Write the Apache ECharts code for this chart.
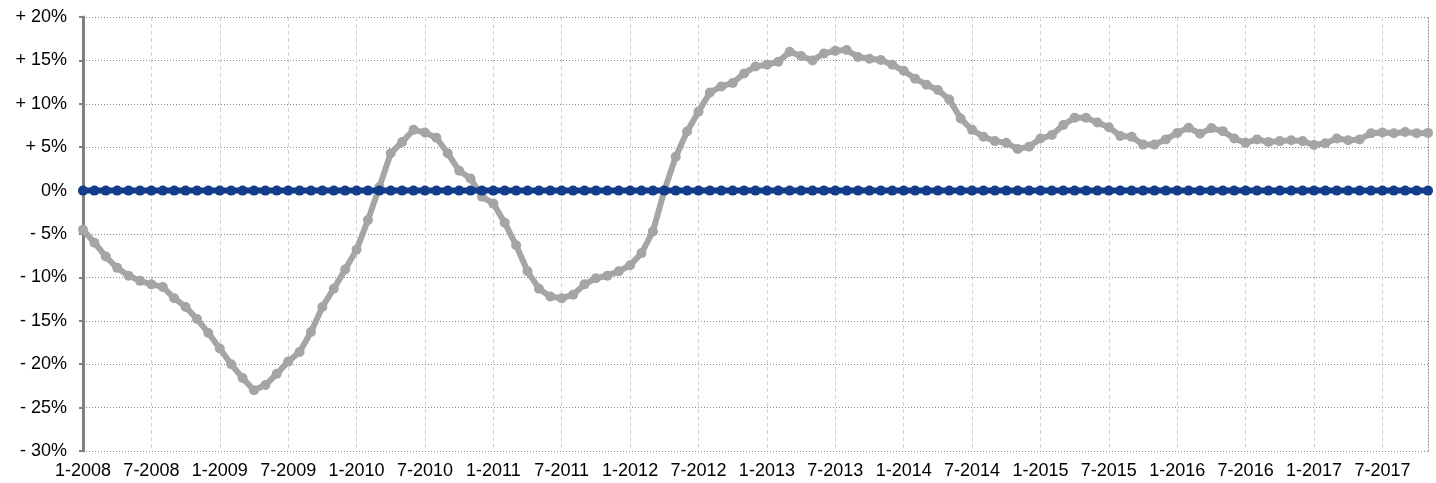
<!DOCTYPE html>
<html>
<head>
<meta charset="utf-8">
<script src="https://cdn.jsdelivr.net/npm/echarts@6/dist/echarts.min.js"></script>
<style>
  html, body { margin: 0; padding: 0; background: #ffffff; }
  #chart { width: 1436px; height: 483px; }
</style>
</head>
<body>
<div id="chart"></div>
<script>
// Monthly points from 1-2008 through 11-2017
const startYear = 2008;
const monthCount = 119;
const categories = [];
for (let i = 0; i < monthCount; i++) {
  categories.push(((i % 12) + 1) + '-' + (startYear + Math.floor(i / 12)));
}

// Year-on-year change, %
const changeValues = [
  -4.5, -6.0, -7.6, -8.9, -9.8, -10.4, -10.8, -11.1, -12.4, -13.4, -14.8, -16.4,
  -18.2, -20.0, -21.6, -23.0, -22.4, -21.1, -19.7, -18.6, -16.3, -13.4, -11.3, -9.1,
  -6.8, -3.4, 0.4, 4.3, 5.6, 7.0, 6.7, 6.1, 4.3, 2.3, 1.4, -0.7,
  -1.5, -3.7, -6.3, -9.3, -11.3, -12.2, -12.4, -12.0, -10.8, -10.1, -9.8, -9.3,
  -8.6, -7.2, -4.7, 0.0, 3.9, 6.8, 9.1, 11.3, 12.0, 12.4, 13.5, 14.3,
  14.5, 14.85, 16.0, 15.5, 15.0, 15.8, 16.1, 16.2, 15.4, 15.2, 15.05, 14.5,
  13.8, 12.9, 12.2, 11.6, 10.5, 8.3, 7.0, 6.2, 5.7, 5.5, 4.8, 5.05,
  6.0, 6.4, 7.55, 8.4, 8.4, 7.85, 7.3, 6.3, 6.2, 5.3, 5.3, 5.9,
  6.65, 7.25, 6.55, 7.2, 6.85, 6.0, 5.5, 5.9, 5.6, 5.7, 5.8, 5.7,
  5.25, 5.45, 6.0, 5.8, 5.9, 6.6, 6.7, 6.6, 6.75, 6.6, 6.65
];

// Zero reference line
const baselineValues = [
  0, 0, 0, 0, 0, 0, 0, 0, 0, 0, 0, 0,
  0, 0, 0, 0, 0, 0, 0, 0, 0, 0, 0, 0,
  0, 0, 0, 0, 0, 0, 0, 0, 0, 0, 0, 0,
  0, 0, 0, 0, 0, 0, 0, 0, 0, 0, 0, 0,
  0, 0, 0, 0, 0, 0, 0, 0, 0, 0, 0, 0,
  0, 0, 0, 0, 0, 0, 0, 0, 0, 0, 0, 0,
  0, 0, 0, 0, 0, 0, 0, 0, 0, 0, 0, 0,
  0, 0, 0, 0, 0, 0, 0, 0, 0, 0, 0, 0,
  0, 0, 0, 0, 0, 0, 0, 0, 0, 0, 0, 0,
  0, 0, 0, 0, 0, 0, 0, 0, 0, 0, 0
];

const yMin = -30, yMax = 20, yStep = 5;

function pctLabel(v) {
  if (v > 0) return '+ ' + v + '%';
  if (v < 0) return '- ' + (-v) + '%';
  return '0%';
}

const labelFont = 'Liberation Sans, Arial, Helvetica, sans-serif';

const chart = echarts.init(document.getElementById('chart'), null, { renderer: 'canvas' });
chart.setOption({
  animation: false,
  backgroundColor: '#ffffff',
  textStyle: { fontFamily: labelFont },
  grid: { left: 83, right: 8, top: 17, bottom: 32, containLabel: false },
  xAxis: {
    type: 'category',
    data: categories,
    boundaryGap: false,
    axisLine: { show: false },
    axisTick: { show: false },
    axisLabel: {
      interval: 5,
      color: '#000000',
      fontSize: 18,
      margin: 11,
      fontFamily: labelFont
    },
    splitLine: {
      show: true,
      interval: 5,
      lineStyle: { color: '#d2d2d2', width: 1, type: [4, 3] }
    }
  },
  yAxis: [
    {
      type: 'value',
      min: yMin,
      max: yMax,
      interval: yStep,
      axisLine: { show: true, lineStyle: { color: '#808080', width: 3 } },
      axisTick: { show: true, length: 4, lineStyle: { color: '#808080', width: 2 } },
      axisLabel: {
        formatter: pctLabel,
        color: '#000000',
        fontSize: 18,
        margin: 16,
        fontFamily: labelFont
      },
      splitLine: {
        show: true,
        lineStyle: { color: '#8a8a8a', width: 1, type: [1, 2] }
      }
    },
    {
      type: 'value',
      position: 'right',
      min: yMin,
      max: yMax,
      interval: yStep,
      axisLine: { show: true, lineStyle: { color: '#8a8a8a', width: 1, type: [1, 2] } },
      axisTick: { show: false },
      axisLabel: { show: false },
      splitLine: { show: false }
    }
  ],
  series: [
    {
      name: 'change',
      type: 'line',
      data: changeValues,
      yAxisIndex: 0,
      symbol: 'circle',
      symbolSize: 10,
      showSymbol: true,
      showAllSymbol: true,
      lineStyle: { color: '#a5a5a5', width: 6 },
      itemStyle: { color: '#a5a5a5' },
      z: 2
    },
    {
      name: 'baseline',
      type: 'line',
      data: baselineValues,
      yAxisIndex: 0,
      symbol: 'circle',
      symbolSize: 10,
      showSymbol: true,
      showAllSymbol: true,
      lineStyle: { color: '#133c8b', width: 6 },
      itemStyle: { color: '#133c8b' },
      z: 3
    }
  ]
});
</script>
</body>
</html>
